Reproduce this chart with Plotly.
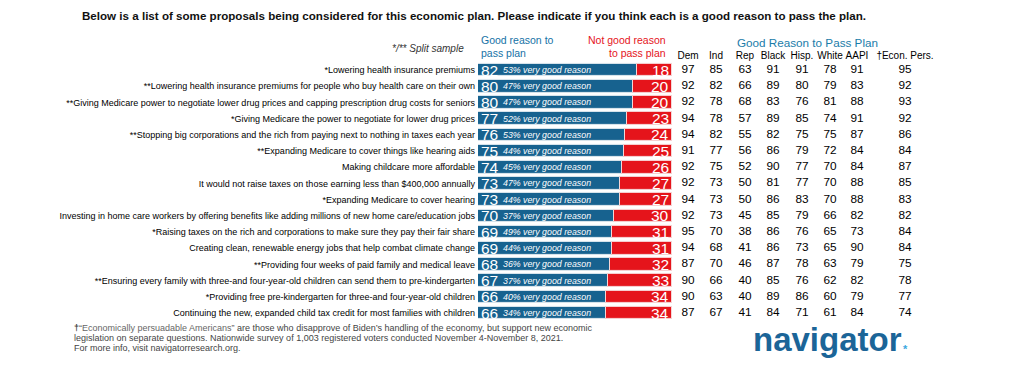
import plotly.graph_objects as go

W, H = 1010, 374

labels = [
    "*Lowering health insurance premiums",
    "**Lowering health insurance premiums for people who buy health care on their own",
    "**Giving Medicare power to negotiate lower drug prices and capping prescription drug costs for seniors",
    "*Giving Medicare the power to negotiate for lower drug prices",
    "**Stopping big corporations and the rich from paying next to nothing in taxes each year",
    "**Expanding Medicare to cover things like hearing aids",
    "Making childcare more affordable",
    "It would not raise taxes on those earning less than $400,000 annually",
    "*Expanding Medicare to cover hearing",
    "Investing in home care workers by offering benefits like adding millions of new home care/education jobs",
    "*Raising taxes on the rich and corporations to make sure they pay their fair share",
    "Creating clean, renewable energy jobs that help combat climate change",
    "**Providing four weeks of paid family and medical leave",
    "**Ensuring every family with three-and four-year-old children can send them to pre-kindergarten",
    "*Providing free pre-kindergarten for three-and four-year-old children",
    "Continuing the new, expanded child tax credit for most families with children",
]
good = [82, 80, 80, 77, 76, 75, 74, 73, 73, 70, 69, 69, 68, 67, 66, 66]
very_good = [53, 47, 47, 52, 53, 44, 45, 47, 44, 37, 49, 44, 36, 37, 40, 34]
not_good = [18, 20, 20, 23, 24, 25, 26, 27, 27, 30, 31, 31, 32, 33, 34, 34]

groups = ["Dem", "Ind", "Rep", "Black", "Hisp.", "White", "AAPI", "†Econ. Pers."]
dem = [97, 92, 92, 94, 94, 91, 92, 92, 94, 92, 95, 94, 87, 90, 90, 87]
ind = [85, 82, 78, 78, 82, 77, 75, 73, 73, 73, 70, 68, 70, 66, 63, 67]
rep = [63, 66, 68, 57, 55, 56, 52, 50, 50, 45, 38, 41, 46, 40, 40, 41]
black = [91, 89, 83, 89, 82, 86, 90, 81, 86, 85, 86, 86, 87, 85, 89, 84]
hisp = [91, 80, 76, 85, 75, 79, 77, 77, 83, 79, 76, 73, 78, 76, 86, 71]
white = [78, 79, 81, 74, 75, 72, 70, 70, 70, 66, 65, 65, 63, 62, 60, 61]
aapi = [91, 83, 88, 91, 87, 84, 84, 88, 88, 82, 73, 90, 79, 82, 79, 84]
econ = [95, 92, 93, 92, 86, 84, 87, 85, 83, 82, 84, 84, 75, 78, 77, 74]
table = [dem, ind, rep, black, hisp, white, aapi, econ]

# ---- layout constants (pixels) ----
BLUE = "#17628f"
RED = "#e5141b"
HDR_BLUE = "#1672a6"
TEAL = "#1a7ca9"
BAR_X0, BAR_X1 = 478, 672
ROW_TOP, ROW_BOT = 61.9, 321.1
COL_X = [688, 716, 745, 773, 802, 830, 857, 905]
FONT = "Liberation Sans, Arial, sans-serif"

rows = list(range(len(labels)))

fig = go.Figure()
fig.add_trace(go.Bar(
    x=good, y=rows, base=0, orientation="h", width=0.78,
    marker=dict(color=BLUE, line=dict(color="#dfe9f0", width=1)),
    hoverinfo="skip", showlegend=False,
))
fig.add_trace(go.Bar(
    x=not_good, y=rows, base=[100 - v for v in not_good], orientation="h", width=0.78,
    marker=dict(color=RED, line=dict(color="#f6d6d6", width=1)),
    hoverinfo="skip", showlegend=False,
))

# table values
for j, col in enumerate(table):
    fig.add_trace(go.Scatter(
        x=[COL_X[j]] * len(col), y=rows, mode="text",
        text=[str(v) for v in col], textposition="middle center",
        textfont=dict(family=FONT, size=11.8, color="#000000"),
        xaxis="x2", yaxis="y", hoverinfo="skip", showlegend=False,
    ))

ann = []
for i in rows:
    ann.append(dict(x=0, y=i, xref="x", yref="y", text=str(good[i]), showarrow=False,
                    xanchor="left", yanchor="middle", xshift=1,
                    font=dict(family=FONT, size=15.5, color="white")))
    ann.append(dict(x=0, y=i, xref="x", yref="y",
                    text="<i>%d%% very good reason</i>" % very_good[i], showarrow=False,
                    xanchor="left", yanchor="middle", xshift=23,
                    font=dict(family=FONT, size=8.8, color="white")))
    ann.append(dict(x=100, y=i, xref="x", yref="y", text=str(not_good[i]), showarrow=False,
                    xanchor="right", yanchor="middle", xshift=-1,
                    font=dict(family=FONT, size=15.5, color="white")))

def px(xp, yp):
    return xp / W, 1 - yp / H

def add_text(text, xp, yp, anchor="left", size=10, color="#111", family=FONT):
    x, y = px(xp, yp)
    ann.append(dict(x=x, y=y, xref="paper", yref="paper", text=text, showarrow=False,
                    xanchor=anchor, yanchor="middle", font=dict(family=family, size=size, color=color)))

add_text("<b>Below is a list of some proposals being considered for this economic plan. Please indicate if you think each is a good reason to pass the plan.</b>",
         474, 15, anchor="center", size=11.6, color="#111")
add_text("<i>*/** Split sample</i>", 466, 48, anchor="right", size=10, color="#333")
add_text("Good reason to", 479, 40, size=10.5, color=HDR_BLUE)
add_text("pass plan", 479, 53, size=10.5, color=HDR_BLUE)
add_text("Not good reason", 668, 40, anchor="right", size=10.5, color=RED)
add_text("to pass plan", 668, 53, anchor="right", size=10.5, color=RED)
add_text("Good Reason to Pass Plan", 807, 42, anchor="center", size=11.7, color=TEAL)

foot = ["<b>†</b><span style='color:#666'>“Economically persuadable Americans”</span> are those who disapprove of Biden’s handling of the economy, but support new economic",
        "legislation on separate questions. Nationwide survey of 1,003 registered voters conducted November 4-November 8, 2021.",
        "For more info, visit navigatorresearch.org."]
for k, t in enumerate(foot):
    add_text(t, 72, 328 + 10 * k, size=9, color="#444")

add_text("<b>navigator</b>", 827, 339, anchor="center", size=33, color="#1b6598")
add_text("<b>*</b>", 905, 349, anchor="center", size=11, color="#3aa8e0")

yd0 = 1 - ROW_BOT / H
yd1 = 1 - ROW_TOP / H

fig.update_layout(
    width=W, height=H, margin=dict(l=0, r=0, t=0, b=0),
    paper_bgcolor="white", plot_bgcolor="rgba(0,0,0,0)",
    barmode="overlay", bargap=0,
    annotations=ann,
    xaxis=dict(domain=[BAR_X0 / W, BAR_X1 / W], range=[0, 100], visible=False, fixedrange=True),
    xaxis2=dict(domain=[0, 1], range=[0, W], anchor="y", side="top", tickangle=0,
                tickvals=COL_X, ticktext=groups, showgrid=False, zeroline=False, showline=False,
                ticks="", tickfont=dict(family=FONT, size=10, color="#000"), ticklabelstandoff=0),
    yaxis=dict(domain=[yd0, yd1], range=[len(labels) - 0.5, -0.5], tickvals=rows, ticktext=labels,
               showgrid=False, zeroline=False, showline=False, ticks="",
               tickfont=dict(family=FONT, size=9, color="#000"), ticklabelstandoff=2),
)

fig.write_html("out.html", config={"displayModeBar": False},
               post_script="document.body.style.margin='0';document.body.style.overflow='hidden';")
